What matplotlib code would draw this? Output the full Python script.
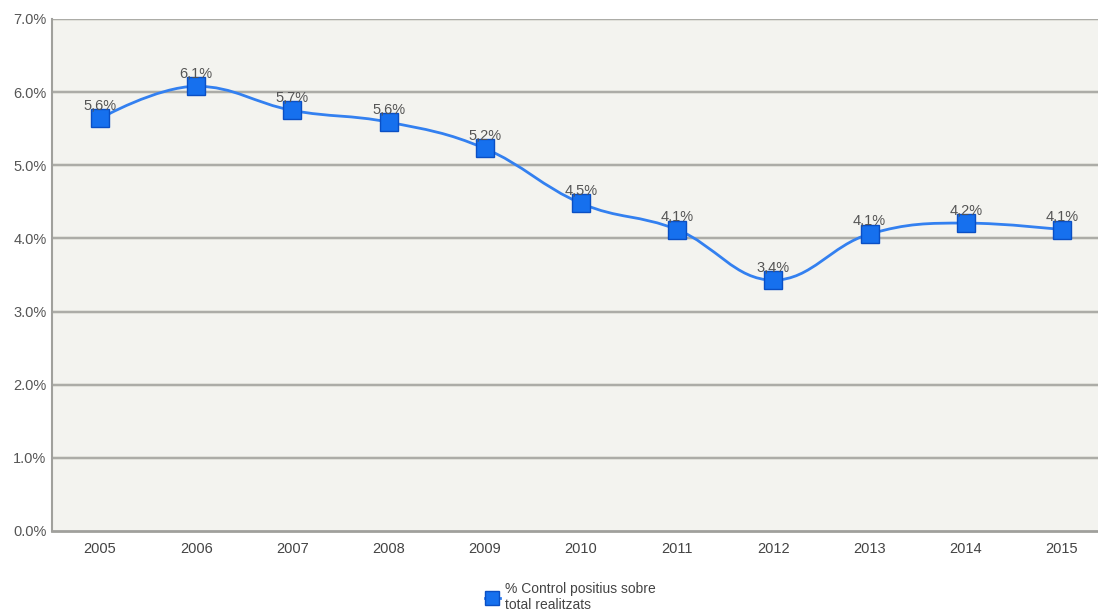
"""Percentatge de controls positius sobre total realitzats, 2005-2015"""

import matplotlib
matplotlib.use("Agg")
import matplotlib.pyplot as plt
from matplotlib.path import Path
from matplotlib.patches import PathPatch
from matplotlib.lines import Line2D

years = ["2005", "2006", "2007", "2008", "2009", "2010",
         "2011", "2012", "2013", "2014", "2015"]
values = [5.64, 6.08, 5.75, 5.59, 5.23, 4.48, 4.12, 3.43, 4.06, 4.21, 4.12]
labels = ["5,6%", "6,1%", "5,7%", "5,6%", "5,2%", "4,5%",
          "4,1%", "3,4%", "4,1%", "4,2%", "4,1%"]
y_ticks = [0, 1, 2, 3, 4, 5, 6, 7]
y_tick_labels = ["0.0%", "1.0%", "2.0%", "3.0%", "4.0%", "5.0%", "6.0%", "7.0%"]
series_name = "% Control positius sobre\ntotal realitzats"

LINE = "#3380f0"
MARKER = "#1670ee"
MARKER_EDGE = "#0a4fc4"
TEXT = "#555555"

plt.rcParams["font.family"] = ["Liberation Sans", "DejaVu Sans"]


def spline_path(xs, ys, smoothing=1.5):
    """Build a smooth bezier path through the points"""
    denom = smoothing + 1
    n = len(xs)
    left = [(xs[i], ys[i]) for i in range(n)]
    right = [(xs[i], ys[i]) for i in range(n)]
    for i in range(1, n - 1):
        x, y = xs[i], ys[i]
        lx, ly = xs[i - 1], ys[i - 1]
        nx, ny = xs[i + 1], ys[i + 1]
        lcx = (smoothing * x + lx) / denom
        lcy = (smoothing * y + ly) / denom
        rcx = (smoothing * x + nx) / denom
        rcy = (smoothing * y + ny) / denom
        corr = ((rcy - lcy) * (rcx - x)) / (rcx - lcx) + y - rcy
        lcy += corr
        rcy += corr
        if lcy > ly and lcy > y:
            lcy = max(ly, y)
            rcy = 2 * y - lcy
        elif lcy < ly and lcy < y:
            lcy = min(ly, y)
            rcy = 2 * y - lcy
        if rcy > ny and rcy > y:
            rcy = max(ny, y)
            lcy = 2 * y - rcy
        elif rcy < ny and rcy < y:
            rcy = min(ny, y)
            lcy = 2 * y - rcy
        left[i] = (lcx, lcy)
        right[i] = (rcx, rcy)
    verts = [(xs[0], ys[0])]
    codes = [Path.MOVETO]
    for i in range(1, n):
        verts += [right[i - 1], left[i], (xs[i], ys[i])]
        codes += [Path.CURVE4] * 3
    return Path(verts, codes)


def main():
    fig = plt.figure(figsize=(10.98, 6.14), dpi=100)
    # the plot area runs past the right edge of the picture, as in the original
    ax = fig.add_axes([52 / 1098, 83 / 614, 1058 / 1098, 512 / 614])
    ax.set_facecolor("#f3f3ef")

    xs = list(range(len(years)))
    ax.set_xlim(-0.5, len(years) - 0.5)
    ax.set_ylim(0, 7)

    for t in y_ticks[1:]:
        ax.axhline(t, color="#a3a39e", lw=1.2, zorder=1)
        ax.axhline(t, color="#dcdcd6", lw=2.6, zorder=0.9)

    patch = PathPatch(spline_path(xs, values), facecolor="none",
                      edgecolor=LINE, lw=2, zorder=3)
    ax.add_patch(patch)
    ax.plot(xs, values, ls="none", marker="s", markersize=13,
            markerfacecolor=MARKER, markeredgecolor=MARKER_EDGE,
            markeredgewidth=1, zorder=4)

    for x, v, lab in zip(xs, values, labels):
        ax.annotate(lab, (x, v), xytext=(0, 4), textcoords="offset points",
                    ha="center", va="bottom", fontsize=10.5, color=TEXT,
                    zorder=5)

    ax.set_xticks(xs)
    ax.set_xticklabels(years, fontsize=10.5, color="#444444")
    ax.set_yticks(y_ticks)
    ax.set_yticklabels(y_tick_labels, fontsize=10.5, color="#555555")
    ax.tick_params(length=0, pad=8)
    ax.tick_params(axis="y", pad=4)

    for side in ["top", "right"]:
        ax.spines[side].set_visible(False)
    ax.spines["left"].set_color("#a0a09c")
    ax.spines["bottom"].set_color("#a0a09c")
    ax.spines["left"].set_linewidth(1.5)
    ax.spines["bottom"].set_linewidth(2)

    handle = Line2D([], [], color=LINE, lw=2, marker="s", markersize=10,
                    markerfacecolor=MARKER, markeredgecolor=MARKER_EDGE)
    fig.legend([handle], [series_name], loc="center left",
               bbox_to_anchor=(472 / 1098, 17 / 614), frameon=False,
               fontsize=10, handlelength=1.1, handletextpad=0.4,
               labelcolor="#444444")

    fig.savefig("out.png", dpi=100, facecolor="white")


if __name__ == "__main__":
    main()
